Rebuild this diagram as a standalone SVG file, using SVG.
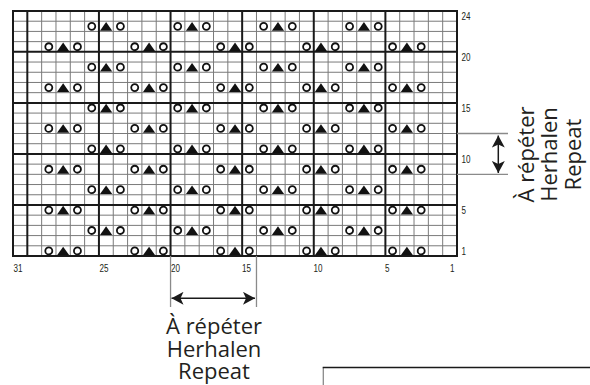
<svg xmlns="http://www.w3.org/2000/svg" xmlns:xlink="http://www.w3.org/1999/xlink" width="590" height="385" viewBox="0 0 590 385">
<style>
.thin{stroke:#7a7a7a;stroke-width:1;fill:none}
.thick{stroke:#1a1a1a;stroke-width:2;fill:none}
.ext{stroke:#8a8a8a;stroke-width:1.3;fill:none}
.arr{stroke:#1a1a1a;stroke-width:1.5;fill:none}
.num{font-family:"Liberation Sans Narrow","Liberation Sans",Arial,sans-serif;font-size:10px;fill:#231f20}
.big{font-family:"Open Sans","Liberation Sans",sans-serif;font-size:22px;fill:#231f20;text-anchor:middle}
.yo{fill:#fff;stroke:#111;stroke-width:1.8}
.k{fill:#111}
</style>
<defs>
<marker id="ah" markerUnits="userSpaceOnUse" markerWidth="12" markerHeight="13" viewBox="0 0 12 13" refX="12" refY="6.5" orient="auto-start-reverse">
<path d="M0,0 L12,6.5 L0,13 L3,6.5 z" fill="#1a1a1a"/>
</marker>
<g id="oao">
<circle class="yo" cx="7.16" cy="5.1" r="3.5"/>
<polygon class="k" points="15.4,9.5 27.6,9.5 21.5,0.9"/>
<circle class="yo" cx="35.8" cy="5.1" r="3.5"/>
</g>
<g id="rowA">
<use xlink:href="#oao" x="84.61"/>
<use xlink:href="#oao" x="170.55"/>
<use xlink:href="#oao" x="256.48"/>
<use xlink:href="#oao" x="342.42"/>
</g>
<g id="rowB">
<use xlink:href="#oao" x="41.65"/>
<use xlink:href="#oao" x="127.58"/>
<use xlink:href="#oao" x="213.52"/>
<use xlink:href="#oao" x="299.45"/>
<use xlink:href="#oao" x="385.39"/>
</g>
</defs>
<rect width="590" height="385" fill="#fff"/>
<g id="chart">
<path class="thin" d="M41.65,11V256M55.97,11V256M70.29,11V256M84.61,11V256M113.26,11V256M127.58,11V256M141.90,11V256M156.23,11V256M184.87,11V256M199.19,11V256M213.52,11V256M227.84,11V256M256.48,11V256M270.81,11V256M285.13,11V256M299.45,11V256M328.10,11V256M342.42,11V256M356.74,11V256M371.06,11V256M399.71,11V256M414.03,11V256M428.35,11V256M442.68,11V256"/>
<path class="thin" d="M13,21.21H457M13,31.42H457M13,41.63H457M13,62.04H457M13,72.25H457M13,82.46H457M13,92.67H457M13,113.08H457M13,123.29H457M13,133.50H457M13,143.71H457M13,164.13H457M13,174.33H457M13,184.54H457M13,194.75H457M13,215.17H457M13,225.38H457M13,235.58H457M13,245.79H457"/>
<path class="thick" d="M27.32,11V256M98.94,11V256M170.55,11V256M242.16,11V256M313.77,11V256M385.39,11V256M13,51.83H457M13,102.88H457M13,153.92H457M13,204.96H457"/>
<rect class="thick" x="13" y="11" width="444" height="245"/>
<use xlink:href="#rowA" y="21.21"/>
<use xlink:href="#rowA" y="62.04"/>
<use xlink:href="#rowA" y="102.88"/>
<use xlink:href="#rowA" y="143.71"/>
<use xlink:href="#rowA" y="184.54"/>
<use xlink:href="#rowA" y="225.38"/>
<use xlink:href="#rowB" y="41.63"/>
<use xlink:href="#rowB" y="82.46"/>
<use xlink:href="#rowB" y="123.29"/>
<use xlink:href="#rowB" y="164.13"/>
<use xlink:href="#rowB" y="204.96"/>
<use xlink:href="#rowB" y="245.79"/>
</g>
<g id="row-numbers">
<text class="num" x="461.5" y="19.8" textLength="9" lengthAdjust="spacingAndGlyphs">24</text>
<text class="num" x="461.5" y="60.6" textLength="9" lengthAdjust="spacingAndGlyphs">20</text>
<text class="num" x="461.5" y="111.6" textLength="9" lengthAdjust="spacingAndGlyphs">15</text>
<text class="num" x="461.5" y="162.7" textLength="9" lengthAdjust="spacingAndGlyphs">10</text>
<text class="num" x="461.5" y="213.7" textLength="4.5" lengthAdjust="spacingAndGlyphs">5</text>
<text class="num" x="461.5" y="254.5" textLength="4.5" lengthAdjust="spacingAndGlyphs">1</text>
</g>
<g id="col-numbers">
<text class="num" x="13.5" y="271.5" textLength="9" lengthAdjust="spacingAndGlyphs">31</text>
<text class="num" x="99.5" y="271.5" textLength="9" lengthAdjust="spacingAndGlyphs">25</text>
<text class="num" x="171" y="271.5" textLength="9" lengthAdjust="spacingAndGlyphs">20</text>
<text class="num" x="242" y="271.5" textLength="9" lengthAdjust="spacingAndGlyphs">15</text>
<text class="num" x="313.5" y="271.5" textLength="9" lengthAdjust="spacingAndGlyphs">10</text>
<text class="num" x="385" y="271.5" textLength="4.5" lengthAdjust="spacingAndGlyphs">5</text>
<text class="num" x="450" y="271.5" textLength="4.5" lengthAdjust="spacingAndGlyphs">1</text>
</g>
<g id="connectors">
<path class="ext" d="M170.55,256V307M256.48,256V307"/>
<line class="arr" x1="171.5" y1="298.3" x2="255" y2="298.3" marker-start="url(#ah)" marker-end="url(#ah)"/>
<path class="ext" d="M457,133.5H508M457,174.3H508"/>
<line class="arr" x1="498.3" y1="135.5" x2="498.3" y2="173" marker-start="url(#ah)" marker-end="url(#ah)"/>
</g>
<g id="label-bottom">
<text class="big" x="214" y="334">À répéter</text>
<text class="big" x="214" y="356.5">Herhalen</text>
<text class="big" x="214" y="379">Repeat</text>
</g>
<g id="label-right">
<text class="big" x="533.5" y="154.5" transform="rotate(-90 533.5 154.5)">À répéter</text>
<text class="big" x="557" y="154.5" transform="rotate(-90 557 154.5)">Herhalen</text>
<text class="big" x="580.5" y="154.5" transform="rotate(-90 580.5 154.5)">Repeat</text>
</g>
<g id="legend-box">
<path d="M323.3,386V367.5" stroke="#8a8a8a" stroke-width="1.3" fill="none"/>
<path d="M322.7,367.5H591" stroke="#1a1a1a" stroke-width="1.5" fill="none"/>
</g>
</svg>
